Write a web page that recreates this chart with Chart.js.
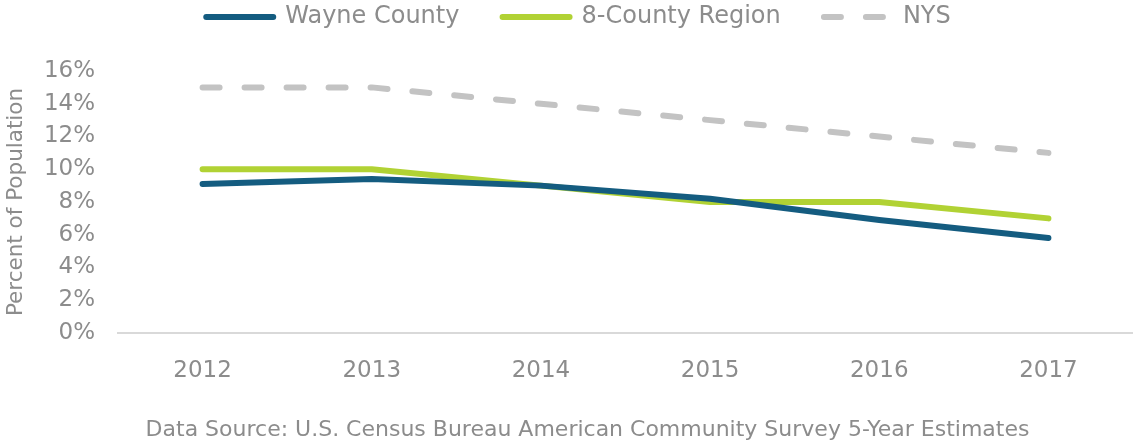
<!DOCTYPE html>
<html>
<head>
<meta charset="utf-8">
<title>Percent of Population</title>
<script src="https://cdn.jsdelivr.net/npm/chart.js@4.4.1/dist/chart.umd.min.js"></script>
<style>
  html, body { margin: 0; padding: 0; background: #fff; }
  #wrap { width: 1133px; height: 443px; position: relative; }
</style>
</head>
<body>
<div id="wrap"><canvas id="chart"></canvas></div>
<script>
// values (percent of population)
const years = ['2012', '2013', '2014', '2015', '2016', '2017'];
const wayneCounty = [9.1, 9.4, 9.0, 8.2, 6.9, 5.8];
const eightCounty = [10, 10, 9, 8, 8, 7];
const nys = [15, 15, 14, 13, 12, 11];
const yTicks = [0, 2, 4, 6, 8, 10, 12, 14, 16];

const textGrey = '#8c8c8c';
Chart.defaults.font.family = '"DejaVu Sans", Verdana, sans-serif';
Chart.defaults.color = textGrey;

// more room under the legend, and nudge legend + source line a little to the right
const layoutTweaks = {
  id: 'layoutTweaks',
  beforeInit(chart) {
    const originalFit = chart.legend.fit;
    chart.legend.fit = function fit() {
      originalFit.bind(chart.legend)();
      this.height += 32;
      if (this.lineWidths && this.lineWidths.length) this.lineWidths[0] -= 24;
    };
  },
  afterLayout(chart) {
    if (chart.titleBlock) chart.titleBlock.left += 42;
  }
};

const lineStyle = {
  borderWidth: 6,
  borderCapStyle: 'round',
  borderJoinStyle: 'round',
  pointRadius: 0,
  pointHoverRadius: 0,
  tension: 0,
  fill: false
};

new Chart(document.getElementById('chart'), {
  type: 'line',
  data: {
    labels: years,
    datasets: [
      { label: 'Wayne County', data: wayneCounty, borderColor: '#145c80', backgroundColor: '#145c80', ...lineStyle },
      { label: '8-County Region', data: eightCounty, borderColor: '#b1d234', backgroundColor: '#b1d234', ...lineStyle },
      { label: 'NYS', data: nys, borderColor: '#c3c3c3', backgroundColor: '#c3c3c3', borderDash: [17, 25], ...lineStyle }
    ]
  },
  plugins: [layoutTweaks],
  options: {
    responsive: true,
    maintainAspectRatio: false,
    animation: false,
    layout: { padding: { left: 0, right: 0, top: 0, bottom: 0 } },
    plugins: {
      legend: {
        position: 'top',
        labels: {
          usePointStyle: true,
          pointStyle: 'line',
          pointStyleWidth: 67,
          boxHeight: 20,
          padding: 5,
          color: textGrey,
          font: { size: 24 },
          generateLabels(chart) {
            const items = Chart.defaults.plugins.legend.labels.generateLabels(chart);
            items.forEach((item, i) => {
              const ds = chart.data.datasets[item.datasetIndex];
              item.lineDash = ds.borderDash || [];
              item.lineCap = 'round';
              item.lineWidth = ds.borderWidth;
              item.strokeStyle = ds.borderColor;
              // wider gaps between entries, like the original
              if (i < items.length - 1) item.text = item.text + '     ';
            });
            return items;
          }
        }
      },
      title: {
        display: true,
        position: 'bottom',
        text: 'Data Source: U.S. Census Bureau American Community Survey 5-Year Estimates',
        color: textGrey,
        font: { size: 22, weight: 'normal' },
        padding: { top: 8, bottom: 0 }
      },
      tooltip: { enabled: false }
    },
    scales: {
      x: {
        offset: true,
        grid: { display: false, drawTicks: false },
        border: { display: true, color: '#d9d9d9', width: 2 },
        ticks: { padding: 24, font: { size: 23 }, color: textGrey }
      },
      y: {
        min: 0,
        max: 16,
        afterBuildTicks(scale) {
          scale.ticks = yTicks.map(v => ({ value: v }));
        },
        afterFit(scale) {
          scale.width = 118;
        },
        grid: { display: false, drawTicks: false },
        border: { display: false },
        ticks: {
          padding: 23,
          font: { size: 23 },
          color: textGrey,
          callback: v => v + '%'
        },
        title: {
          display: true,
          text: 'Percent of Population',
          color: textGrey,
          font: { size: 21.5 },
          padding: { top: 4, bottom: 0 }
        }
      }
    }
  }
});
</script>
</body>
</html>
